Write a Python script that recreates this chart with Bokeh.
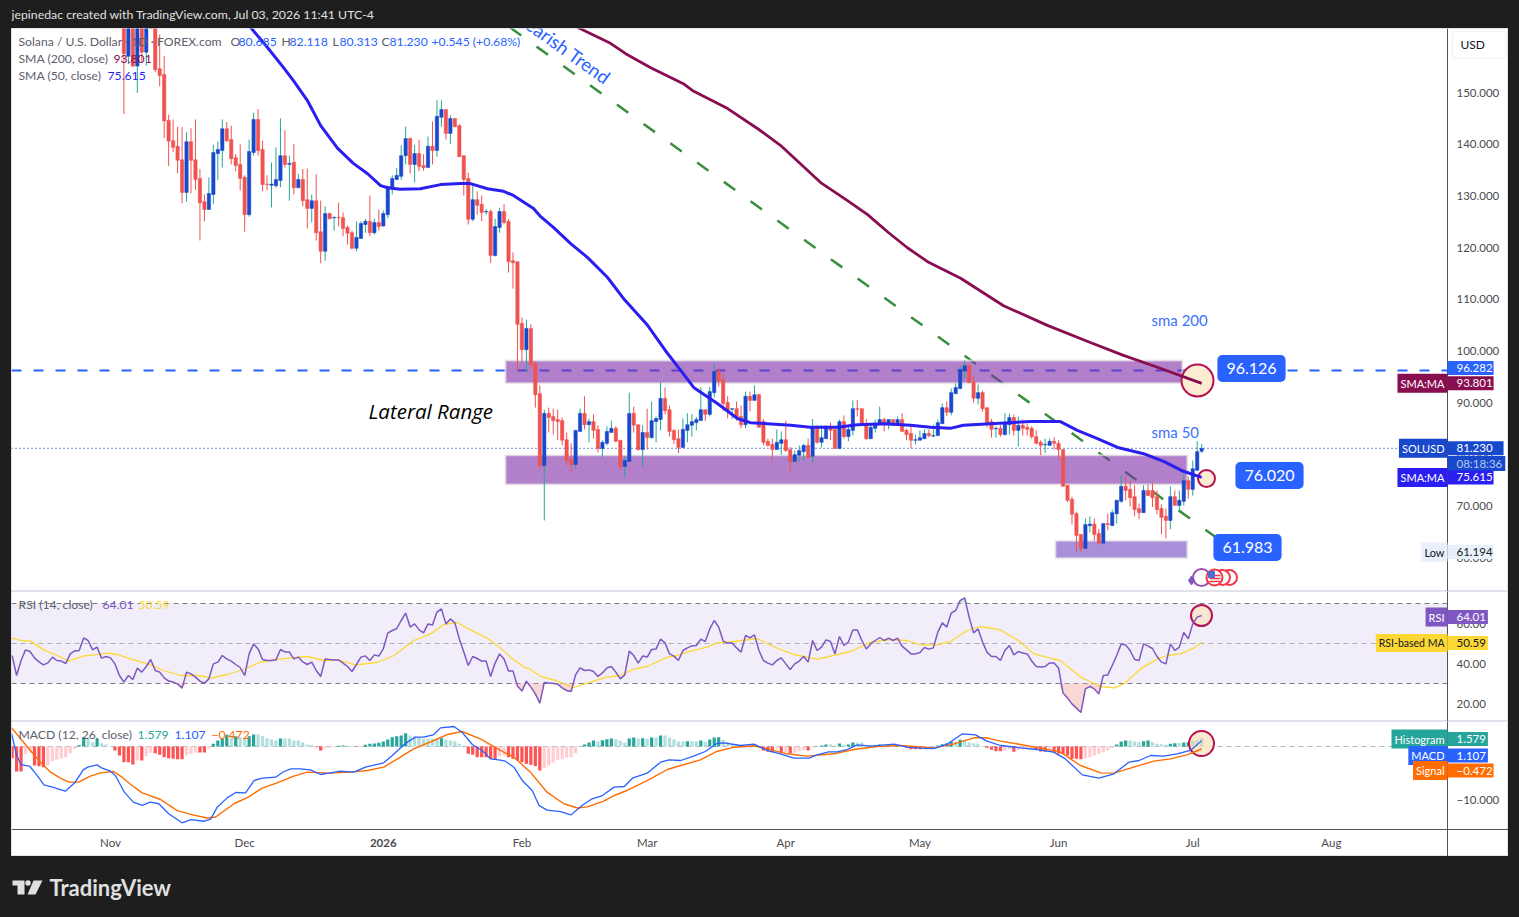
from bokeh.plotting import figure
from bokeh.layouts import column
from bokeh.models import Range1d, Label, FixedTicker, BoxAnnotation
from bokeh.core.properties import value
from bokeh.embed import file_html
from bokeh.resources import INLINE

# ---------- data ----------
month_days = [0, 30, 61, 92, 120, 151, 181, 212, 242, 273]
month_names = ["Nov", "Dec", "", "Feb", "Mar", "Apr", "May", "Jun", "Jul", "Aug"]

opens = [165,157.0,166,155.1,165,157.8,172,166,154.6,153.5,
144.6,140.7,139.6,137.0,130.7,140.5,137.0,133.4,128.9,127.4,
130.3,138.2,138.8,143.0,140.9,137.4,136.1,133.6,126.4,138.4,
144.8,139.0,132.3,132.1,132.0,133.0,137.8,136.1,136.5,131.6,
133.2,129.3,127.6,129.1,123.1,119.3,126.6,125.8,125.9,125.8,
123.9,122.9,119.9,121.8,124.5,125.1,122.9,124.9,
124.2,126.4,131.4,133.2,133.8,137.8,141.1,136.1,138.2,135.9,
135.5,139.6,138.8,145.2,146.7,142.1,145.0,143.6,137.8,133.4,
125.5,129.3,128.4,126.9,127.0,118.5,123.9,127.0,125.1,117.5,
117.3,105.4,100.3,104.4,97.6,91.8,77.9,88.0,87.4,86.8,
86.6,82.9,79.1,78.1,84.5,88.0,85.8,86.4,84.9,81.2,
82.2,84.3,85.1,82.8,77.7,78.7,88.0,85.8,81.0,84.3,
83.3,86.4,86.8,90.9,88.7,84.7,83.1,81.4,84.7,85.7,
86.2,86.6,88.7,87.8,92.0,96.1,94.5,90.1,88.8,88.9,
87.4,85.8,91.3,90.5,91.6,86.4,82.6,82.0,81.0,82.2,
82.9,81.0,78.7,79.9,80.6,81.8,79.7,85.5,82.4,83.1,
85.5,84.9,81.2,86.4,83.5,84.7,88.9,88.9,86.0,83.1,
85.1,85.8,86.8,85.8,86.8,85.8,86.8,84.7,84.1,82.8,
82.8,83.1,84.1,83.6,83.7,86.0,89.1,88.2,91.8,92.8,
96.3,97.2,94.0,90.9,92.0,89.1,86.4,85.0,85.1,83.9,
85.8,87.2,84.7,85.7,85.3,85.1,83.5,82.4,81.9,81.8,
82.6,82.2,81.0,74.1,71.4,68.6,64.6,61.9,66.3,66.6,
64.8,62.9,66.7,66.3,68.6,71.0,73.9,73.3,71.9,69.6,
68.8,73.1,73.1,71.9,69.6,68.1,67.3,71.9,70.2,71.0,
75.0,73.3,77.0,80.685]

highs = [168,167,168,168,167,169,174,168,161.2,157.1,
145.7,144.8,143.4,143.3,142.3,143.1,144.8,135.2,130.3,133.6,
139.9,140.5,144.8,144.3,143.6,138.1,140.1,134.0,140.9,146.1,
146.8,140.7,134.0,136.5,139.4,145.0,142.7,137.8,140.1,134.3,
135.2,135.3,130.3,134.2,129.1,128.0,126.8,126.0,128.7,126.8,
124.3,123.3,125.1,125.1,125.6,130.1,125.6,127.4,
127.2,132.0,134.0,135.4,139.8,143.4,141.3,139.9,140.9,138.1,
141.5,144.4,148.5,148.5,146.7,145.6,145.0,143.9,137.8,134.5,
132.2,130.9,130.1,127.5,127.4,125.6,127.7,128.4,125.5,119.1,
117.3,106.5,106.1,105.2,98.0,93.4,88.7,89.1,88.9,88.7,
87.2,84.3,82.2,84.7,88.9,91.3,87.0,87.8,85.7,82.8,
85.5,86.6,85.5,82.8,79.7,92.0,89.3,85.8,85.7,88.9,
90.3,87.4,94.0,93.0,89.5,84.9,84.9,87.0,88.0,87.9,
87.3,93.1,88.7,93.1,97.6,96.8,95.5,91.3,88.9,90.3,
89.5,92.2,92.2,93.4,91.8,86.9,83.1,83.1,84.9,84.5,
86.6,81.5,80.8,81.8,82.1,83.1,86.9,85.7,85.7,85.7,
86.2,84.9,86.8,87.6,85.8,90.5,90.6,88.9,86.9,85.8,
86.8,89.3,87.1,86.8,86.8,87.4,88.0,85.0,85.5,83.9,
84.7,84.9,84.9,85.8,86.8,89.9,90.3,92.8,93.8,97.2,
98.2,97.6,95.3,93.6,92.4,89.1,86.9,85.5,85.7,88.0,
87.9,87.8,87.4,86.8,86.0,85.5,84.7,82.8,83.1,83.1,
83.4,82.8,81.0,74.1,71.9,69.0,64.6,67.7,68.1,67.7,
65.7,66.7,68.6,69.4,71.2,76.0,75.8,75.0,74.1,70.6,
74.1,74.3,74.6,73.1,70.4,69.6,73.9,73.1,73.1,76.3,
75.8,78.9,82.6,82.118]

lows = [145.8,155.5,154.9,149.9,155.9,155.2,164,153.9,151.2,141.2,
135.8,138.5,134.4,128.6,128.9,130.5,131.2,121.4,125.1,127.4,
128.4,133.1,135.5,140.4,136.1,134.8,131.1,123.1,126.0,137.8,
137.8,130.9,131.1,127.8,131.6,131.7,135.5,129.1,130.3,131.6,
128.0,123.7,124.9,121.4,117.0,117.5,125.5,123.3,124.1,122.2,
120.6,119.7,119.3,121.8,122.9,122.2,122.6,123.3,
124.1,125.7,130.3,133.1,133.1,136.1,134.4,132.6,134.8,134.9,
135.4,136.1,137.6,143.4,140.9,140.1,143.3,137.6,130.1,124.5,
125.1,126.4,125.1,126.4,117.1,118.3,122.9,124.5,115.2,112.1,
96.3,97.8,95.9,96.5,89.1,77.3,67.3,84.3,83.9,82.8,
81.8,77.9,76.4,77.3,84.5,84.9,82.4,83.1,80.4,79.5,
81.8,84.3,82.4,77.1,75.6,78.7,84.3,80.8,77.7,81.0,
83.1,82.4,84.7,87.8,83.5,82.1,80.3,81.4,82.4,83.5,
84.7,86.6,86.5,87.4,91.1,93.2,88.5,87.0,86.9,86.6,
85.1,85.1,88.4,90.5,85.3,81.8,81.6,78.9,81.0,80.0,
80.6,76.6,78.7,78.6,78.9,79.4,78.4,82.1,81.4,83.1,
82.8,81.2,81.2,83.1,82.6,83.7,87.4,85.8,82.9,83.1,
84.3,85.8,84.5,84.9,85.5,85.7,84.5,82.8,81.2,82.0,
82.8,83.1,83.4,83.4,83.7,86.0,87.5,87.6,91.8,92.6,
94.7,93.8,90.1,89.7,88.3,85.3,83.3,83.3,83.5,83.7,
83.9,83.7,81.6,83.7,83.7,83.1,82.0,79.9,80.3,81.8,
81.0,78.9,73.9,70.8,66.5,61.3,61.2,61.9,65.0,63.4,
62.5,62.9,65.4,66.3,66.7,70.7,71.2,70.0,68.1,67.5,
68.8,72.1,69.9,68.5,64.6,63.8,65.6,70.2,69.2,70.2,
71.5,72.1,76.8,80.313]

closes = [157.5,165,155.1,166,157.8,167,166,154.4,153.3,144.5,
140.6,139.4,136.9,130.7,140.5,136.9,133.2,128.7,127.4,130.5,
138.4,139.0,143.0,140.7,137.2,135.9,133.4,126.4,138.6,144.8,
138.8,132.2,132.2,132.3,133.2,137.8,136.1,136.3,131.6,133.2,
129.1,127.6,129.1,122.9,119.3,126.6,125.6,125.9,125.8,123.7,
122.8,119.9,122.0,124.7,125.1,122.9,124.9,124.1,
126.6,131.8,133.4,134.0,137.8,141.1,136.1,138.2,135.7,135.5,
139.6,138.8,145.4,146.7,142.1,145.0,143.4,137.6,133.2,125.5,
129.3,128.2,126.8,127.0,118.5,124.1,127.0,124.9,117.3,117.1,
105.2,100.3,104.4,97.4,91.6,77.9,88.0,87.2,86.6,86.4,
82.8,78.9,78.1,84.7,88.0,85.8,86.4,84.7,81.2,82.4,
84.5,85.1,82.6,77.7,78.9,88.0,85.7,81.0,84.3,83.3,
86.6,87.0,90.9,88.5,84.5,82.9,81.4,84.9,85.8,86.4,
86.8,88.7,87.8,92.2,96.1,94.3,89.9,88.4,88.9,87.0,
85.8,91.3,90.5,91.6,85.3,82.4,81.8,81.0,82.4,82.9,
80.8,78.7,80.0,80.8,81.8,79.5,85.3,82.4,83.3,85.5,
84.7,81.2,86.4,83.5,84.9,88.9,88.8,85.8,83.1,85.3,
85.8,86.8,85.8,86.8,85.8,86.8,84.5,83.9,82.8,82.9,
83.3,84.1,83.7,83.7,86.2,89.1,88.2,92.0,93.0,96.5,
97.2,94.0,90.9,92.0,88.9,86.2,84.9,85.1,83.9,86.0,
87.2,84.7,85.7,85.1,84.9,83.5,82.2,81.8,82.0,82.6,
82.2,81.0,73.9,71.2,68.5,64.4,61.9,66.5,66.6,64.6,
62.9,66.7,66.5,68.8,71.2,73.9,73.1,71.7,69.4,68.8,
73.1,72.1,71.7,69.4,67.9,67.3,71.9,70.2,71.2,75.0,
73.3,77.3,80.6,81.23]

sma50_days = [31.3,35.1,38.7,40.9,44,47,50.8,54.3,57.5,60.4,62,64.8,69.3,73.8,78.3,80.5,84.3,87.9,90.1,94.6,96.2,99.1,102.9,106.7,111.1,114.7,120.1,124.1,127.5,130.4,135.7,140.2,143.1,146.9,152.1,156.5,162.6,167,172.9,178.9,183.4,187.8,190.7,196.8,205.7,212.4,216.2,220.7,225.2,231,235.5,239.9,244]
sma50_vals = [162.6,158.7,154.8,152.3,148.5,143.6,139.2,136.3,134.3,132.0,131.6,131.3,131.4,132.2,132.4,132.4,131.4,130.9,130.1,127.6,126.0,123.9,120.8,118.1,114.3,110.2,105.0,100.1,96.3,93.0,89.9,87.0,86.2,86.0,85.7,85.3,85.3,85.8,86.0,85.7,85.3,85.1,85.7,86.0,86.4,86.4,84.7,83.1,81.4,80.2,78.7,76.8,75.615]

sma200_days = [104.4,111.8,115.2,120.8,128.1,130.1,138,144.9,149.8,158.8,164.8,169.3,174,178.2,182.7,190.1,199.7,209.5,219.1,226.5,234.1,244]
sma200_vals = [162.6,159.5,157.5,154.8,151.7,150.4,146.9,142.9,139.8,132.6,129.1,126.4,122.9,120.0,117.3,114.1,108.8,105.0,101.7,99.2,96.9,93.801]

rsi_values = [44.0,34.0,41.5,46.8,46.0,42.8,40.8,39.3,40.3,43.2,41.5,41.2,40.0,44.8,46.3,46.5,52.8,51.5,46.8,48.2,42.7,43.5,42.8,39.8,34.0,30.7,34.0,32.0,37.7,35.7,38.5,42.0,36.5,35.7,32.8,31.2,30.7,29.8,27.7,35.7,34.8,33.2,31.2,30.2,32.3,39.8,40.7,44.0,42.3,41.2,39.5,38.0,34.0,44.8,49.8,47.3,42.0,41.5,41.5,41.8,47.0,45.8,45.7,42.3,43.2,40.8,39.5,40.7,36.5,33.5,42.3,42.0,41.8,41.8,40.2,38.5,36.0,39.5,43.2,43.8,41.5,44.3,43.7,47.3,55.2,56.5,57.5,61.5,65.2,58.2,59.8,56.8,55.3,59.8,59.3,65.7,67.3,59.8,62.3,60.3,52.3,45.7,39.0,43.5,42.5,41.2,41.2,33.5,40.2,44.8,
42.3,36.3,36.3,28.7,26.2,31.2,28.2,24.8,20.2,30.5,30.3,30.0,29.7,27.8,26.5,26.0,34.3,37.8,36.5,36.8,36.0,33.5,35.3,37.8,38.5,35.7,32.3,34.3,46.2,44.0,40.2,43.7,43.2,47.0,47.3,52.2,50.3,44.8,43.7,41.5,46.5,47.8,48.8,49.0,52.2,51.0,57.3,61.5,58.2,51.2,50.2,50.2,47.8,45.7,54.0,52.8,54.3,46.5,41.5,40.2,39.3,41.5,42.8,39.8,37.0,39.8,41.2,43.5,40.7,51.5,46.5,48.2,51.8,51.0,44.8,53.5,49.0,50.7,56.8,56.8,51.5,47.3,49.8,51.5,53.0,51.5,52.7,51.5,52.7,48.7,46.8,44.8,44.8,45.5,48.0,47.2,47.8,55.7,60.3,58.2,65.2,66.5,71.5,72.8,63.2,55.3,57.3,50.7,45.7,43.5,43.5,41.5,
46.5,49.0,44.3,46.0,45.2,44.8,41.2,38.5,38.2,38.5,40.3,40.3,37.8,25.2,22.8,19.8,17.7,15.5,27.3,28.5,27.3,24.8,34.0,34.3,39.0,44.0,49.8,49.3,46.5,42.0,41.5,49.8,48.7,47.5,43.5,40.7,39.8,49.8,46.5,48.2,55.5,52.3,59.8,63.2,64.01]

rsi_ma_days = [-22.1,-20.1,-17.9,-14.9,-11.9,-9.3,-6,-4.1,-0.7,1.5,5.2,8.2,11.9,15.7,19.4,22.7,26.1,29.8,33.5,38,44,47.7,50.7,54.8,59.6,63.4,67.8,71.6,74.5,77.5,80.5,84.2,87.2,89.4,92.4,93.9,96.2,99.5,103.6,108.1,111,114,117,120,124.5,126.7,129,133.4,135.6,139.4,144.6,148.9,152.8,158,161.7,165.5,170,174.4,178.1,181.1,184.9,187.8,191.6,194.5,199,203.5,206.5,210.2,212.4,216.9,221.4,224.4,226.6,230.3,234.1,236.3,239.3,242.3,244]
rsi_ma_vals = [52.8,51.5,51.2,46.8,44.0,41.2,43.8,44.2,45.2,44.5,41.8,39.8,36.5,34.0,34.0,32.8,34.5,37.0,40.7,42.3,43.5,41.5,41.8,39.3,40.5,44.0,51.5,54.8,59.5,60.5,56.8,52.7,47.8,43.2,38.2,37.0,33.5,31.5,28.0,31.2,33.2,34.0,37.2,38.5,43.2,44.0,45.8,48.2,50.3,51.0,52.5,47.8,44.5,42.2,44.0,46.0,50.7,52.0,51.5,49.3,49.3,51.0,56.5,58.5,56.8,50.7,44.8,42.7,41.5,33.2,28.5,27.8,29.8,37.3,42.3,44.0,44.8,47.8,50.59]

macd_days = [-22.1,-21,-20,-18,-17,-16,-14.9,-13,-10.1,-8,-6.1,-5.1,-3,-2,0,1.1,3.1,5.1,7.1,8.9,10.8,13,16,18,21,22.4,23.9,26.1,28,30.2,32.1,33.9,36.9,38.8,40.3,42.5,44.7,47,48.8,51.4,54.4,57,61.1,63,66,68.2,70.1,72.3,73.8,76.8,78.6,80.9,83.1,85,87.2,88.3,90.2,92.1,94.3,95.8,97.6,100.6,103,105.5,107.7,110,112.6,114.9,116.7,120,123,124.9,127.5,130.4,133,135.7,137.2,140.9,143.9,146.8,149.8,152.8,156.2,158,160.6,162.5,164.7,167,170,175.2,178.1,181.1,184.1,187,190.5,193.4,196,199,203.5,207.2,210.9,213.5,217.3,221,224.4,227.7,230,232.6,235.5,238.5,241.5,244]
macd_vals = [2.39,-1.70,-3.40,-3.77,-4.84,-5.91,-7.23,-7.67,-8.43,-6.86,-4.40,-3.90,-3.46,-4.03,-4.65,-5.47,-8.62,-10.5,-11.1,-10.5,-10.8,-12.7,-14.4,-13.8,-14.1,-13.7,-11.4,-9.69,-8.68,-8.74,-6.42,-5.98,-5.79,-4.72,-4.21,-4.21,-4.40,-5.28,-5.03,-4.65,-4.84,-3.90,-3.08,-1.70,0.63,1.76,1.76,2.26,3.52,3.77,2.70,0.38,-0.75,-2.33,-2.58,-2.77,-3.90,-6.42,-8.30,-11.1,-12.0,-12.3,-12.9,-11.1,-9.87,-9.25,-7.67,-7.55,-5.98,-5.03,-2.96,-2.52,-2.64,-1.82,-0.94,0.63,0.69,0.19,0.44,-0.75,-1.38,-2.20,-2.20,-1.57,-1.01,-1.01,-0.57,0.31,0.06,0.44,-0.13,-0.31,-0.38,0.38,2.39,2.20,1.01,0.19,-0.25,-0.57,-1.07,-2.33,-5.35,-5.97,-5.16,-2.96,-2.64,-1.70,-1.82,-1.38,-0.75,1.107]

signal_days = [-22.1,-20.1,-17.9,-15.7,-13.4,-11.2,-9.3,-7.1,-4.5,-2.2,0.7,2.6,4.8,7.1,11.2,14.9,17.9,21.6,23.5,27.6,30.9,33.9,37.3,41,44,48.8,53.7,57.4,61.1,64.8,67.8,72.3,75.3,78.6,82.7,87.2,90.2,93.9,97.6,101.4,104.4,106.6,110.3,112.6,115.5,120,124.5,127.5,131.9,135.6,139.4,143.9,146.8,151.3,155.8,161.7,166.2,171.4,176.7,184.1,188.6,193,196,199,203.5,208.7,212.4,216.9,221.4,224.4,228.8,233.3,237,240.7,244]
signal_vals = [3.52,1.45,-0.75,-2.96,-4.84,-5.97,-6.73,-6.73,-5.60,-4.97,-4.72,-5.79,-7.36,-8.74,-10.0,-12.1,-12.8,-13.5,-13.3,-10.8,-9.50,-7.86,-6.86,-5.60,-4.84,-5.03,-4.84,-4.53,-3.90,-2.01,-0.44,1.13,2.26,2.83,1.45,-0.75,-2.01,-4.84,-8.62,-10.8,-11.6,-11.4,-10.3,-9.25,-8.30,-6.42,-4.34,-3.58,-2.52,-0.94,-0.13,0.13,-0.44,-1.38,-1.82,-1.38,-0.57,0,0.19,-0.25,0.50,1.64,1.64,1.01,0.38,-0.44,-1.07,-3.58,-4.97,-5.03,-3.90,-2.77,-2.33,-1.57,-0.472]

hist_values = [-2.20,-4.72,-4.72,-1.38,-1.20,-3.59,-3.72,-3.90,-3.59,-2.77,-2.52,-2.33,-2.01,-1.26,-0.44,0.25,1.76,1.76,0.82,1.45,0.63,0.38,0.06,-0.75,-1.70,-2.96,-2.96,-3.40,-2.64,-2.64,-1.82,-1.20,-1.26,-1.57,-2.01,-2.20,-2.33,-2.39,-2.39,-1.70,-1.38,-1.13,-1.13,-1.13,-0.44,0.50,1.13,1.45,2.20,1.76,1.95,1.76,1.57,1.95,2.26,2.26,1.95,1.57,1.32,1.13,1.51,1.51,1.51,1.13,1.13,0.82,0.38,0.19,-0.13,-0.75,-0.38,-0.25,-0.13,0.13,0.19,0.13,0.13,-0.06,0.06,0.31,0.50,0.57,0.69,0.94,1.32,1.76,1.95,2.08,2.52,2.08,1.95,1.64,1.45,1.45,1.45,1.45,1.57,1.26,1.13,1.01,0.50,0,-1.38,-1.57,-2.01,-2.01,-2.01,-2.33,-2.45,-1.82,
-1.70,-2.01,-2.33,-2.64,-2.96,-3.27,-3.46,-3.71,-4.53,-4.09,-3.59,-3.08,-2.52,-2.39,-2.14,-2.01,-1.26,0,0.38,0.75,1.13,0.94,1.20,1.38,1.51,1.38,1.07,0.75,1.51,1.70,1.51,1.57,1.45,1.70,1.70,2.08,2.08,1.70,1.38,0.94,0.94,1.01,1.01,1.01,1.13,0.88,1.32,1.70,1.76,1.26,0.82,0.50,0.13,0,-0.13,-0.13,0.19,-0.13,-0.75,-1.01,-1.13,-0.44,-1.20,-1.07,-1.26,-1.20,-0.94,-0.75,-0.75,-0.13,0.06,0.19,0.38,0.38,0.19,0.57,0.31,0.38,0.75,0.75,0.75,0.31,0.31,0.31,0.38,0.31,0.38,0.25,0.31,0.06,-0.25,-0.50,-0.50,-0.50,-0.31,-0.13,-0.06,0.19,0.44,0.63,0.94,0.94,1.26,1.26,0.82,0.63,0.50,0.13,-0.25,-0.63,-0.88,-0.88,
-0.75,-0.50,-1.01,-0.63,-0.57,-0.50,-0.38,-0.63,-0.94,-1.01,-0.75,-1.13,-1.38,-1.38,-1.70,-2.33,-2.33,-2.39,-2.20,-2.01,-1.70,-1.38,-1.07,-0.75,-0.25,0.38,0.94,1.13,1.13,0.94,0.82,1.01,1.13,0.82,0.50,0.44,0.31,0.50,0.63,0.63,0.75,0.82,1.13,1.26,1.579]

# ---------- fixed page geometry (page pixels) of the three panes ----------
DARK = "#1e1e1e"
LEFT, AXIS, RIGHT = 11, 1447, 1508
x0, x1 = -22.138, 298.97
py_top, py_mid1, py_mid2, py_low, py_bot = 28, 591, 721, 829, 856
p1_top, p1_bot = 162.37, 53.57
p2_top, p2_bot = 76.0, 11.0
p3_top, p3_bot = 4.717, -15.66
FONT = "Lato"

def X(px):
    return x0 + (px - LEFT) * (x1 - x0) / (AXIS - LEFT)
def Y1(py):
    return p1_top + (py - py_top) * (p1_bot - p1_top) / (py_mid1 - py_top)
def Y2(py):
    return p2_top + (py - py_mid1) * (p2_bot - p2_top) / (py_mid2 - py_mid1)
def Y3(py):
    return p3_top + (py - py_mid2) * (p3_bot - p3_top) / (py_low - py_mid2)

# the frame runs across the price scale too, and the scale is pinned at the pane's right end
xr = Range1d(x0, X(RIGHT))

def pane(h, y_hi, y_lo, ticks, fmt, with_time=False):
    f = figure(width=RIGHT - LEFT, height=h, x_range=xr, y_range=Range1d(y_lo, y_hi),
               output_backend="svg", toolbar_location=None, tools="",
               y_axis_location="right", x_axis_location="below" if with_time else None,
               min_border=0, outline_line_color="#e0e3eb")
    f.grid.visible = False
    ax = f.yaxis[0]
    ax.fixed_location = x1
    ax.ticker = FixedTicker(ticks=ticks)
    ax.major_label_overrides = {t: fmt(t) for t in ticks}
    ax.major_tick_line_color = None
    ax.major_tick_out = 0
    ax.minor_tick_line_color = None
    ax.minor_tick_out = 0
    ax.axis_line_color = "#50535e"
    ax.major_label_standoff = 9
    ax.major_label_text_font = FONT
    ax.major_label_text_font_size = "11.5px"
    ax.major_label_text_color = "#4a4a4f"
    return f

# Label padding order: left, right, top, bottom
def tag(f, px, y, text, bg, color="#ffffff", align="left", pad=(9, 1, 3, 3), size="11.5px"):
    f.add_layout(Label(x=X(px), y=y, text=text, text_color=color, text_font=FONT, text_font_size=size,
                       text_align=align, text_baseline="middle", background_fill_color=bg, padding=pad))

def side(f, y, text, bg, color="#ffffff", size="11px"):
    tag(f, AXIS, y, text, bg, color=color, align="right", pad=(3, 3, 3, 3), size=size)

def note(f, px, y, text, color="#5d606b", size="12.2px", style="normal", font=FONT, up=1):
    f.add_layout(Label(x=X(px), y=y, y_offset=up, text=text, text_color=color, text_font=font, text_font_size=size,
                       text_font_style=style, text_align="left", text_baseline="middle"))

# ---------- main pane ----------
p = pane(py_mid1 - py_top, p1_top, p1_bot, [60, 70, 80, 90, 100, 110, 120, 130, 140, 150], lambda t: f"{t}.000")

days = list(range(3, 3 + len(opens)))
UP, DOWN, UPW = "#1848cc", "#ef5350", "#26a69a"
wick = [UPW if c >= o else DOWN for o, c in zip(opens, closes)]
body = [UP if c >= o else DOWN for o, c in zip(opens, closes)]

# lines that sit under the translucent zones
p.line([x0, x1], [96.282, 96.282], line_color="#2962ff", line_width=2, line_dash="10 12")
p.line([89.3, 247.1], [162.6, 64.1], line_color="#388e3c", line_width=2.5, line_dash="14 19")

# zones
p.quad(left=[88.3, 88.3], right=[239.7, 240.8], top=[98.2, 79.9], bottom=[93.8, 74.25],
       fill_color="#7f2ba7", fill_alpha=0.6, line_color="#e8e8e8", line_alpha=0.7, line_width=2)
p.quad(left=[211.3], right=[240.8], top=[63.4], bottom=[60.0],
       fill_color="#7044c0", fill_alpha=0.6, line_color="#e8e8e8", line_alpha=0.7, line_width=2)

# last price line
p.line([x0, x1], [81.23, 81.23], line_color="#1848cc", line_width=1.2, line_dash="1 3")

# highlight circles
p.scatter([X(1197), X(1206)], [Y1(380), Y1(478)], marker="circle", size=[32, 17], fill_color="#fdebd3",
          line_color="#b5134f", line_width=2)

# candles
p.segment(days, highs, days, lows, line_color=wick, line_width=1)
p.vbar(x=days, width=0.75, top=[max(o, c) for o, c in zip(opens, closes)],
       bottom=[min(o, c) for o, c in zip(opens, closes)], fill_color=body, line_color=body, line_width=0.5)

# moving averages
p.line(sma200_days, sma200_vals, line_color="#880e4f", line_width=2.8)
p.line(sma50_days, sma50_vals, line_color="#2a1ff0", line_width=3)

# trend text
p.text([X(563)], [Y1(47)], text=["Bearish Trend"], angle=-35.7, angle_units="deg", text_color="#2962ff",
       text_font=value(FONT), text_font_size="18.5px", text_align="center", text_baseline="middle")

# event icons
p.scatter([X(1229), X(1222)], [Y1(577)] * 2, marker="circle", size=15, fill_color="#ffffff", line_color="#f23645", line_width=2)
p.scatter([X(1201)], [Y1(577)], marker="circle", size=17, fill_color="#ffffff", line_color="#9c4fb0", line_width=2)
p.scatter([X(1191)], [Y1(580)], marker="diamond", size=9, fill_color="#7e57c2", line_color="#7e57c2")
p.scatter([X(1214)], [Y1(577)], marker="circle", size=16, fill_color="#ffffff", line_color="#f23645", line_width=2)
p.segment([X(1209)] * 3, [Y1(575), Y1(578), Y1(581)], [X(1220)] * 3, [Y1(575), Y1(578), Y1(581)], line_color="#f23645", line_width=1.5)
p.scatter([X(1211)], [Y1(574)], marker="square", size=6, fill_color="#4a6fd0", line_color="#4a6fd0")

# texts on the chart
note(p, 368, Y1(411), "Lateral Range", color="#000000", size="20.5px", style="italic", font="Open Sans")
note(p, 1151, Y1(321), "sma 200", color="#3d73ff", size="15px", up=2)
note(p, 1151, Y1(433), "sma 50", color="#3d73ff", size="15px", up=2)

for cx, cy, txt in [(1251, 368, "96.126"), (1269, 475, "76.020"), (1247, 547, "61.983")]:
    p.add_layout(Label(x=X(cx), y=Y1(cy), text=txt, text_color="#ffffff", text_font=FONT, text_font_size="16px",
                       text_align="center", text_baseline="middle", background_fill_color="#2962ff",
                       padding=(9, 9, 8, 8), border_radius=5))

# legend
note(p, 18, Y1(42), "Solana / U.S. Dollar · 1D · FOREX.com")
for px_, txt, col in [(230, "O", "#5d606b"), (238, "80.685", "#2962ff"), (281, "H", "#5d606b"), (289, "82.118", "#2962ff"),
                      (332, "L", "#5d606b"), (339, "80.313", "#2962ff"), (381, "C", "#5d606b"), (389, "81.230", "#2962ff"),
                      (431, "+0.545 (+0.68%)", "#2962ff")]:
    note(p, px_, Y1(42), txt, color=col)
note(p, 18, Y1(59), "SMA (200, close)")
note(p, 113, Y1(59), "93.801", color="#880e4f")
note(p, 18, Y1(76), "SMA (50, close)")
note(p, 107, Y1(76), "75.615", color="#2a1ff0")

# price scale tags
tag(p, AXIS, Y1(367.5), "96.282", "#2962ff")
tag(p, AXIS, 93.801, "93.801", "#880e4f")
side(p, 93.801, "SMA:MA", "#880e4f")
tag(p, AXIS, Y1(463), "08:18:36", "#1848cc", color="#b9c8f0", pad=(9, 3, 1, 1))
tag(p, AXIS, 81.23, "81.230", "#1848cc", pad=(9, 11, 3, 3))
side(p, 81.23, "SOLUSD", "#1848cc")
tag(p, AXIS, 75.615, "75.615", "#2a1ff0")
side(p, 75.615, "SMA:MA", "#2a1ff0")
tag(p, AXIS, 61.194, "61.194", "#e8f0fb", color="#131722")
side(p, 61.194, "Low", "#e8f0fb", color="#131722")
p.add_layout(Label(x=X(1452), y=Y1(44), text="USD", text_color="#131722", text_font=FONT,
                   text_font_size="12px", text_align="left", text_baseline="middle", background_fill_color="#ffffff",
                   border_line_color="#eef0f5", padding=(8, 21, 6, 6), border_radius=3))

# ---------- RSI pane ----------
r = pane(py_mid2 - py_mid1, p2_top, p2_bot, [20, 40, 60], lambda t: f"{t}.00")
rsi_days = list(range(-22, -22 + len(rsi_values)))
r.add_layout(BoxAnnotation(left=x0, right=x1, bottom=30, top=70, fill_color="#7e57c2", fill_alpha=0.1, line_alpha=0, level="underlay"))
for lvl, al in [(70, 1.0), (50, 0.55), (30, 1.0)]:
    r.line([x0, x1], [lvl, lvl], line_color="#787b86", line_alpha=al, line_width=1, line_dash="5 4")
r.varea(rsi_days, [30] * len(rsi_days), [min(v, 30) for v in rsi_values], fill_color="#f4b8b0", fill_alpha=0.55)
r.varea(rsi_days, [70] * len(rsi_days), [max(v, 70) for v in rsi_values], fill_color="#b8e0c8", fill_alpha=0.55)
r.scatter([X(1201)], [Y2(615)], marker="circle", size=21, fill_color="#fbe3c4", fill_alpha=0.75, line_color="#b5134f", line_width=2)
r.line(rsi_ma_days, rsi_ma_vals, line_color="#fdd835", line_width=1.3)
r.line(rsi_days, rsi_values, line_color="#7e57c2", line_width=1.5)
note(r, 18, Y2(605), "RSI (14, close)")
note(r, 102, Y2(605), "64.01", color="#7e57c2")
note(r, 138, Y2(605), "50.59", color="#fdd835")
tag(r, AXIS, Y2(616.5), "64.01", "#7e57c2", pad=(9, 2, 3, 3))
side(r, Y2(616.5), "RSI", "#7e57c2")
tag(r, AXIS, Y2(642.5), "50.59", "#fdd835", color="#131722", pad=(9, 2, 3, 3))
side(r, Y2(642.5), "RSI-based MA", "#fdd835", color="#131722", size="10.5px")

# ---------- MACD pane: its frame also holds the time scale ----------
m = pane(py_bot - py_mid2, p3_top, Y3(py_bot), [-10], lambda t: "−10.000", with_time=True)
m.line([x0, x1], [0, 0], line_color="#b2b5be", line_width=1, line_dash="5 4")
hist_days = list(range(-22, -22 + len(hist_values)))
hist_colors = []
for i, h in enumerate(hist_values):
    prev = hist_values[i - 1] if i else h
    if h >= 0:
        hist_colors.append("#26a69a" if h > prev else "#b2dfdb")
    else:
        hist_colors.append("#ffcdd2" if h > prev else "#ff5252")
m.vbar(x=hist_days, width=0.72, top=hist_values, bottom=0, fill_color=hist_colors, line_color=None)
m.scatter([X(1201)], [Y3(743)], marker="circle", size=25, fill_color="#fbe3c4", fill_alpha=0.8, line_color="#b5134f", line_width=2)
m.line(signal_days, signal_vals, line_color="#ff6d00", line_width=1.4)
m.line(macd_days, macd_vals, line_color="#2962ff", line_width=1.3)
note(m, 18, Y3(735), "MACD (12, 26, close)")
note(m, 137, Y3(735), "1.579", color="#26a69a")
note(m, 174, Y3(735), "1.107", color="#2962ff")
note(m, 211, Y3(735), "−0.472", color="#ff6d00")
tag(m, AXIS, Y3(738.5), "1.579", "#26a69a", pad=(9, 2, 3, 3))
side(m, Y3(738.5), "Histogram", "#26a69a")
tag(m, AXIS, Y3(755), "1.107", "#2962ff", pad=(9, 2, 3, 3))
side(m, Y3(755), "MACD", "#2962ff")
tag(m, AXIS, Y3(770), "−0.472", "#ff6d00", pad=(9, 1, 3, 3))
side(m, Y3(770), "Signal", "#ff6d00")

xa = m.xaxis[0]
xa.fixed_location = p3_bot
xa.ticker = FixedTicker(ticks=month_days)
xa.major_label_overrides = dict(zip(month_days, month_names))
xa.major_tick_line_color = None
xa.major_tick_out = 0
xa.minor_tick_line_color = None
xa.minor_tick_out = 0
xa.axis_line_color = "#50535e"
xa.major_label_standoff = 6
xa.major_label_text_font = FONT
xa.major_label_text_font_size = "11.5px"
xa.major_label_text_color = "#4a4a4f"
m.add_layout(Label(x=61, y=Y3(842), text="2026", text_font=FONT, text_font_size="11.5px", text_font_style="bold",
                   text_color="#4a4a4f", text_align="center", text_baseline="middle"))

# ---------- header and footer strips ----------
def strip(h, y_first, y_last):
    f = figure(width=RIGHT - LEFT, height=h, x_range=Range1d(LEFT, RIGHT), y_range=Range1d(y_last, y_first),
               output_backend="svg", toolbar_location=None, tools="", x_axis_location=None, y_axis_location=None,
               min_border=0, outline_line_color=None, background_fill_color=DARK, border_fill_color=DARK)
    f.grid.visible = False
    return f

hdr = strip(py_top, 0, py_top)
hdr.add_layout(Label(x=11, y=14, text="jepinedac created with TradingView.com, Jul 03, 2026 11:41 UTC-4", text_color="#e0e0e0",
                     text_font=FONT, text_font_size="12.3px", text_baseline="middle"))

ftr = strip(917 - py_bot, py_bot, 917)
ftr.patch([12, 24, 24, 17, 17, 12], [880, 880, 894, 894, 885, 885], fill_color="#e0e0e0", line_color=None)
ftr.patch([33, 42, 35, 27], [880, 880, 894, 894], fill_color="#e0e0e0", line_color=None)
ftr.scatter([27.5], [882.5], marker="circle", size=5.5, fill_color="#e0e0e0", line_color=None)
ftr.add_layout(Label(x=49, y=887, text="TradingView", text_color="#e0e0e0", text_font=FONT, text_font_size="22px",
                     text_font_style="bold", text_baseline="middle"))

layout = column(hdr, p, r, m, ftr, spacing=0, margin=(0, 0, 0, LEFT))

html = file_html(layout, INLINE, title="SOLUSD")
html = html.replace("</head>", "<style>html,body{background:#1e1e1e;margin:0;}</style></head>", 1)
open("out.html", "w").write(html)
